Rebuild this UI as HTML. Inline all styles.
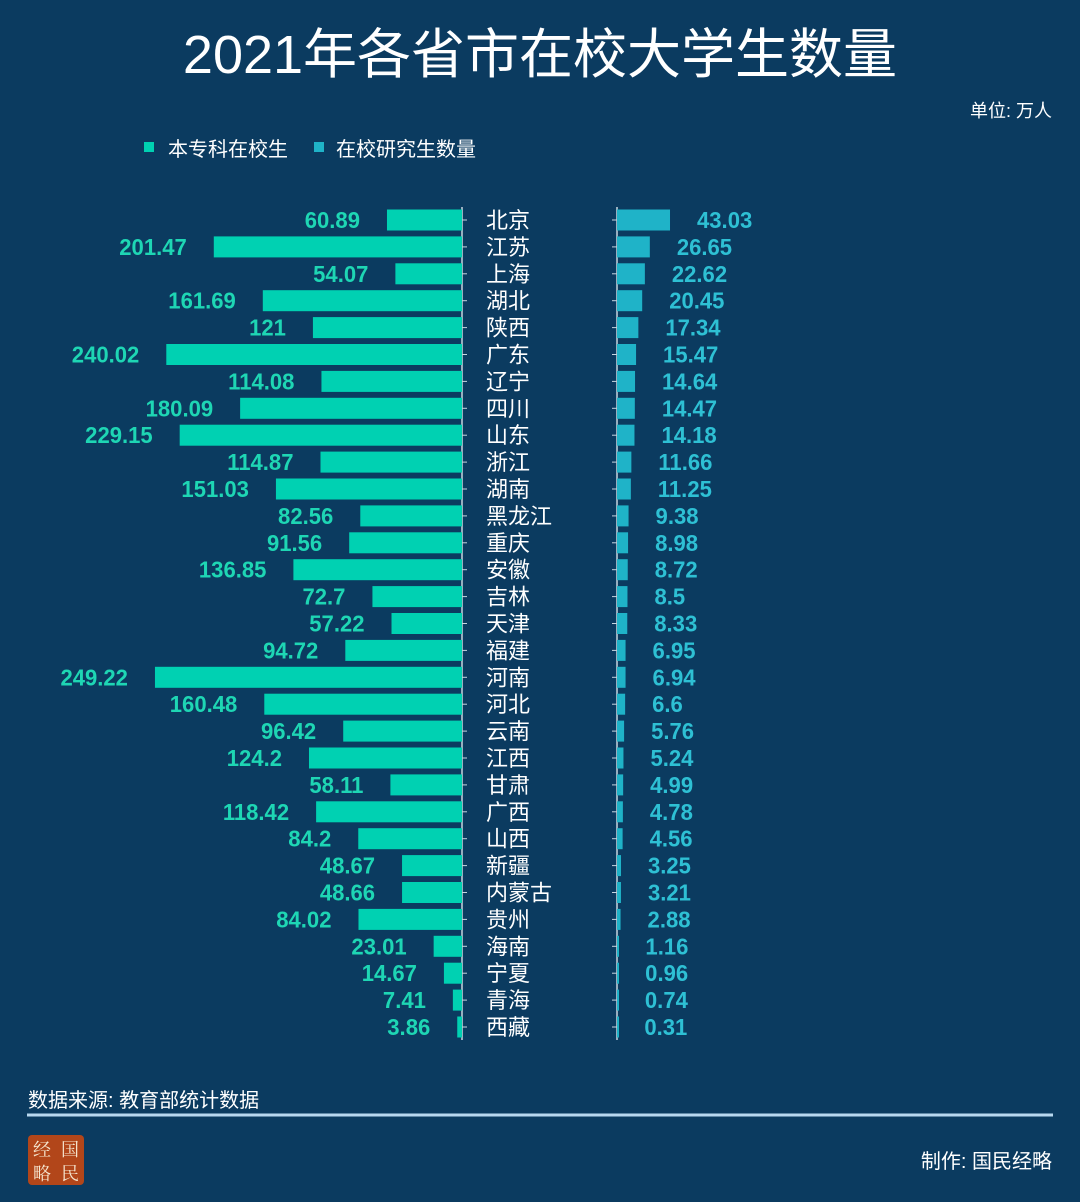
<!DOCTYPE html>
<html><head><meta charset="utf-8"><style>
html,body{margin:0;padding:0;background:#0b3b60;}
body{width:1080px;height:1202px;overflow:hidden;font-family:"Liberation Sans","Noto Sans CJK SC",sans-serif;}
</style></head><body>
<svg id="chart" width="1080" height="1202" xmlns="http://www.w3.org/2000/svg" style="display:block">
<rect width="1080" height="1202" fill="#0b3b60"/>
<text x="540" y="73" text-anchor="middle" fill="#ffffff" font-size="54" font-family="Liberation Sans, Noto Sans CJK SC, sans-serif">2021年各省市在校大学生数量</text>
<text x="1052" y="117" text-anchor="end" fill="#ffffff" font-size="18" font-family="Liberation Sans, Noto Sans CJK SC, sans-serif">单位: 万人</text>
<g>
<rect x="144" y="142" width="10" height="10" fill="#00d1b2"/>
<text x="168" y="156" fill="#ffffff" font-size="20" font-family="Liberation Sans, Noto Sans CJK SC, sans-serif">本专科在校生</text>
<rect x="314" y="142" width="10" height="10" fill="#1fb3c8"/>
<text x="336" y="156" fill="#ffffff" font-size="20" font-family="Liberation Sans, Noto Sans CJK SC, sans-serif">在校研究生数量</text>
</g>
<line x1="462" y1="207" x2="462" y2="1040" stroke="#c8d6e0" stroke-width="1.5"/>
<line x1="617" y1="207" x2="617" y2="1040" stroke="#c8d6e0" stroke-width="1.5"/>
<g id="bars"></g>
<text x="28" y="1107" fill="#ffffff" font-size="20" font-family="Liberation Sans, Noto Sans CJK SC, sans-serif">数据来源: 教育部统计数据</text>
<line x1="27" y1="1115" x2="1053" y2="1115" stroke="#b8d8f0" stroke-width="3"/>
<g>
<rect x="28" y="1135" width="56" height="50" rx="4" fill="#b2461a"/>
<text x="42" y="1156" text-anchor="middle" fill="#f5e6d0" font-size="18" font-family="Noto Serif CJK SC, serif">经</text>
<text x="70" y="1156" text-anchor="middle" fill="#f5e6d0" font-size="18" font-family="Noto Serif CJK SC, serif">国</text>
<text x="42" y="1180" text-anchor="middle" fill="#f5e6d0" font-size="18" font-family="Noto Serif CJK SC, serif">略</text>
<text x="70" y="1180" text-anchor="middle" fill="#f5e6d0" font-size="18" font-family="Noto Serif CJK SC, serif">民</text>
</g>
<text x="1052" y="1168" text-anchor="end" fill="#ffffff" font-size="20" font-family="Liberation Sans, Noto Sans CJK SC, sans-serif">制作: 国民经略</text>
</svg>
<script>
const provinces=["北京","江苏","上海","湖北","陕西","广东","辽宁","四川","山东","浙江","湖南","黑龙江","重庆","安徽","吉林","天津","福建","河南","河北","云南","江西","甘肃","广西","山西","新疆","内蒙古","贵州","海南","宁夏","青海","西藏"];
const undergrad=[60.89,201.47,54.07,161.69,121,240.02,114.08,180.09,229.15,114.87,151.03,82.56,91.56,136.85,72.7,57.22,94.72,249.22,160.48,96.42,124.2,58.11,118.42,84.2,48.67,48.66,84.02,23.01,14.67,7.41,3.86];
const graduate=[43.03,26.65,22.62,20.45,17.34,15.47,14.64,14.47,14.18,11.66,11.25,9.38,8.98,8.72,8.5,8.33,6.95,6.94,6.6,5.76,5.24,4.99,4.78,4.56,3.25,3.21,2.88,1.16,0.96,0.74,0.31];
const NS="http://www.w3.org/2000/svg";
const g=document.getElementById('bars');
const LX=462,RX=617,K=1.232;
function yc(i){return 220+i*26.9;}
function xl(v){return LX-v*K;}
function xr(v){return RX+v*K;}
function mk(t,a){const e=document.createElementNS(NS,t);for(const k in a)e.setAttribute(k,a[k]);g.appendChild(e);return e;}
const num="Liberation Sans, sans-serif";
provinces.forEach((p,i)=>{
 const y=yc(i);
 let b=mk('rect',{x:xl(undergrad[i]),y:y-10.5,width:LX-xl(undergrad[i]),height:21,fill:'#00d1b2'});
 
 
 let t=mk('text',{x:0,y:0,transform:'translate('+(xl(undergrad[i])-27)+','+(y+8)+') scale(0.96,1)','text-anchor':'end',fill:'#1ed6b4','font-size':23,'font-weight':'bold','font-family':num});
 t.textContent=undergrad[i];
 
 
 let tk=mk('line',{x1:LX,x2:LX+5,y1:y,y2:y,stroke:'#c8d6e0','stroke-width':1});
 
 
 let n=mk('text',{x:486,y:y+8,fill:'#ffffff','font-size':22,'font-family':'Liberation Sans, Noto Sans CJK SC, sans-serif'});
 n.textContent=p;
 
 
 let tk2=mk('line',{x1:RX-5,x2:RX,y1:y,y2:y,stroke:'#c8d6e0','stroke-width':1});
 
 
 let b2=mk('rect',{x:RX,y:y-10.5,width:Math.max(2,xr(graduate[i])-RX),height:21,fill:'#1fb3c8'});
 
 
 let t2=mk('text',{x:0,y:0,transform:'translate('+(xr(graduate[i])+27)+','+(y+8)+') scale(0.96,1)',fill:'#2ec0d4','font-size':23,'font-weight':'bold','font-family':num});
 t2.textContent=graduate[i];
 
 
});
</script>
</body></html>
